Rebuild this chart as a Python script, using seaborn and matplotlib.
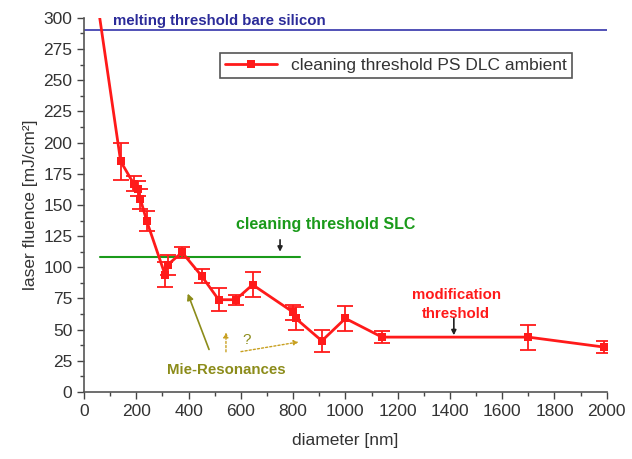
import numpy as np
import pandas as pd
import matplotlib
matplotlib.use("Agg")
import matplotlib.pyplot as plt
import seaborn as sns
from matplotlib.ticker import MultipleLocator

# Cleaning threshold of PS particles on DLC (ambient) vs particle diameter
diameter = [60, 140, 190, 205, 215, 240, 310, 320, 375, 450, 515, 580, 645, 800, 810, 910, 1000, 1140, 1700, 1990]
fluence = [300, 185, 167, 163, 155, 137, 94, 102, 112, 93, 74, 74, 86, 64, 59, 41, 59, 44, 44, 36]
fluence_err = [0, 15, 6, 6, 8, 8, 10, 8, 4.5, 5.5, 9, 4, 10, 6, 9, 9, 10, 5, 10, 4.5]

melting_threshold = 290
slc_threshold = 108.5
slc_range = [60, 825]

df = pd.DataFrame({"diameter": diameter, "fluence": fluence, "err": fluence_err})
measured = df.iloc[1:]

sns.set_theme(style="ticks")
plt.rcParams["font.family"] = ["Liberation Sans", "DejaVu Sans"]

fig = plt.figure(figsize=(6.32, 4.59), dpi=100)
ax = fig.add_axes([0.133, 0.146, 0.827, 0.815])

red = "#ff1a1a"
ax.axhline(melting_threshold, color="#3333aa", lw=1.2, zorder=1)
ax.plot(slc_range, [slc_threshold] * 2, color="#1a9a1a", lw=1.5, zorder=1)

ax.errorbar(measured["diameter"], measured["fluence"], yerr=measured["err"],
            fmt="none", ecolor=red, elinewidth=1.3, capsize=5.5, capthick=1.3, zorder=2)
sns.lineplot(data=df, x="diameter", y="fluence", sort=False, ax=ax, color=red,
             lw=2, label="cleaning threshold PS DLC ambient", zorder=3,
             marker="s", markersize=6, markeredgewidth=0, markevery=list(range(1, len(df))))

ax.set_xlim(0, 2000)
ax.set_ylim(0, 300)
ax.xaxis.set_major_locator(MultipleLocator(200))
ax.xaxis.set_minor_locator(MultipleLocator(100))
ax.yaxis.set_major_locator(MultipleLocator(25))
ax.yaxis.set_minor_locator(MultipleLocator(12.5))
ax.tick_params(which="both", direction="out", color="#444444", labelcolor="#333333",
               labelsize=12.5, width=1)
ax.tick_params(which="major", length=5)
ax.tick_params(which="minor", length=3)
for s in ("left", "bottom"):
    ax.spines[s].set_color("#555555")
    ax.spines[s].set_linewidth(1.2)
sns.despine(ax=ax)

ax.set_xlabel("diameter [nm]", fontsize=12.5, color="#333333", labelpad=10)
ax.set_ylabel("laser fluence [mJ/cm²]", fontsize=12.5, color="#333333", labelpad=4)

leg = ax.legend(loc="upper left", bbox_to_anchor=(0.243, 0.93), fontsize=12.5,
                fancybox=False, framealpha=1, edgecolor="#555555", handlelength=3,
                borderpad=0.3, labelcolor="#333333")
leg.get_frame().set_linewidth(1.2)

# annotations
small_arrow = dict(arrowstyle="-|>", color="#222222", lw=1.2, mutation_scale=7,
                   shrinkA=0, shrinkB=0)
ax.text(111, 297.5, "melting threshold bare silicon", color="#2b2b99",
        fontsize=10.8, fontweight="bold", va="center", ha="left")
ax.text(924, 134, "cleaning threshold SLC", color="#1a9a1a",
        fontsize=11.5, fontweight="bold", va="center", ha="center")
ax.annotate("", xy=(750, 112.5), xytext=(750, 122), arrowprops=small_arrow)
ax.text(1424, 70, "modification\nthreshold", color=red, fontsize=10.8,
        fontweight="bold", va="center", ha="center", linespacing=1.5)
ax.annotate("", xy=(1415, 45.5), xytext=(1415, 59), arrowprops=small_arrow)

olive = "#8c8c1a"
ax.text(545, 17.5, "Mie-Resonances", color=olive, fontsize=10.8,
        fontweight="bold", va="center", ha="center")
ax.annotate("", xy=(393, 81), xytext=(482, 32),
            arrowprops=dict(arrowstyle="-|>", color=olive, lw=1.2, mutation_scale=9))
ax.annotate("", xy=(543, 50), xytext=(543, 30),
            arrowprops=dict(arrowstyle="-|>", color="#c8a020", lw=1, ls=(0, (1.5, 1.5)),
                            mutation_scale=7))
ax.annotate("", xy=(832, 40.5), xytext=(590, 32),
            arrowprops=dict(arrowstyle="-|>", color="#c8a020", lw=1, ls=(0, (1.5, 1.5)),
                            mutation_scale=7))
ax.text(622, 42, "?", color=olive, fontsize=11, va="center", ha="center")

fig.savefig("out.png", dpi=100)
